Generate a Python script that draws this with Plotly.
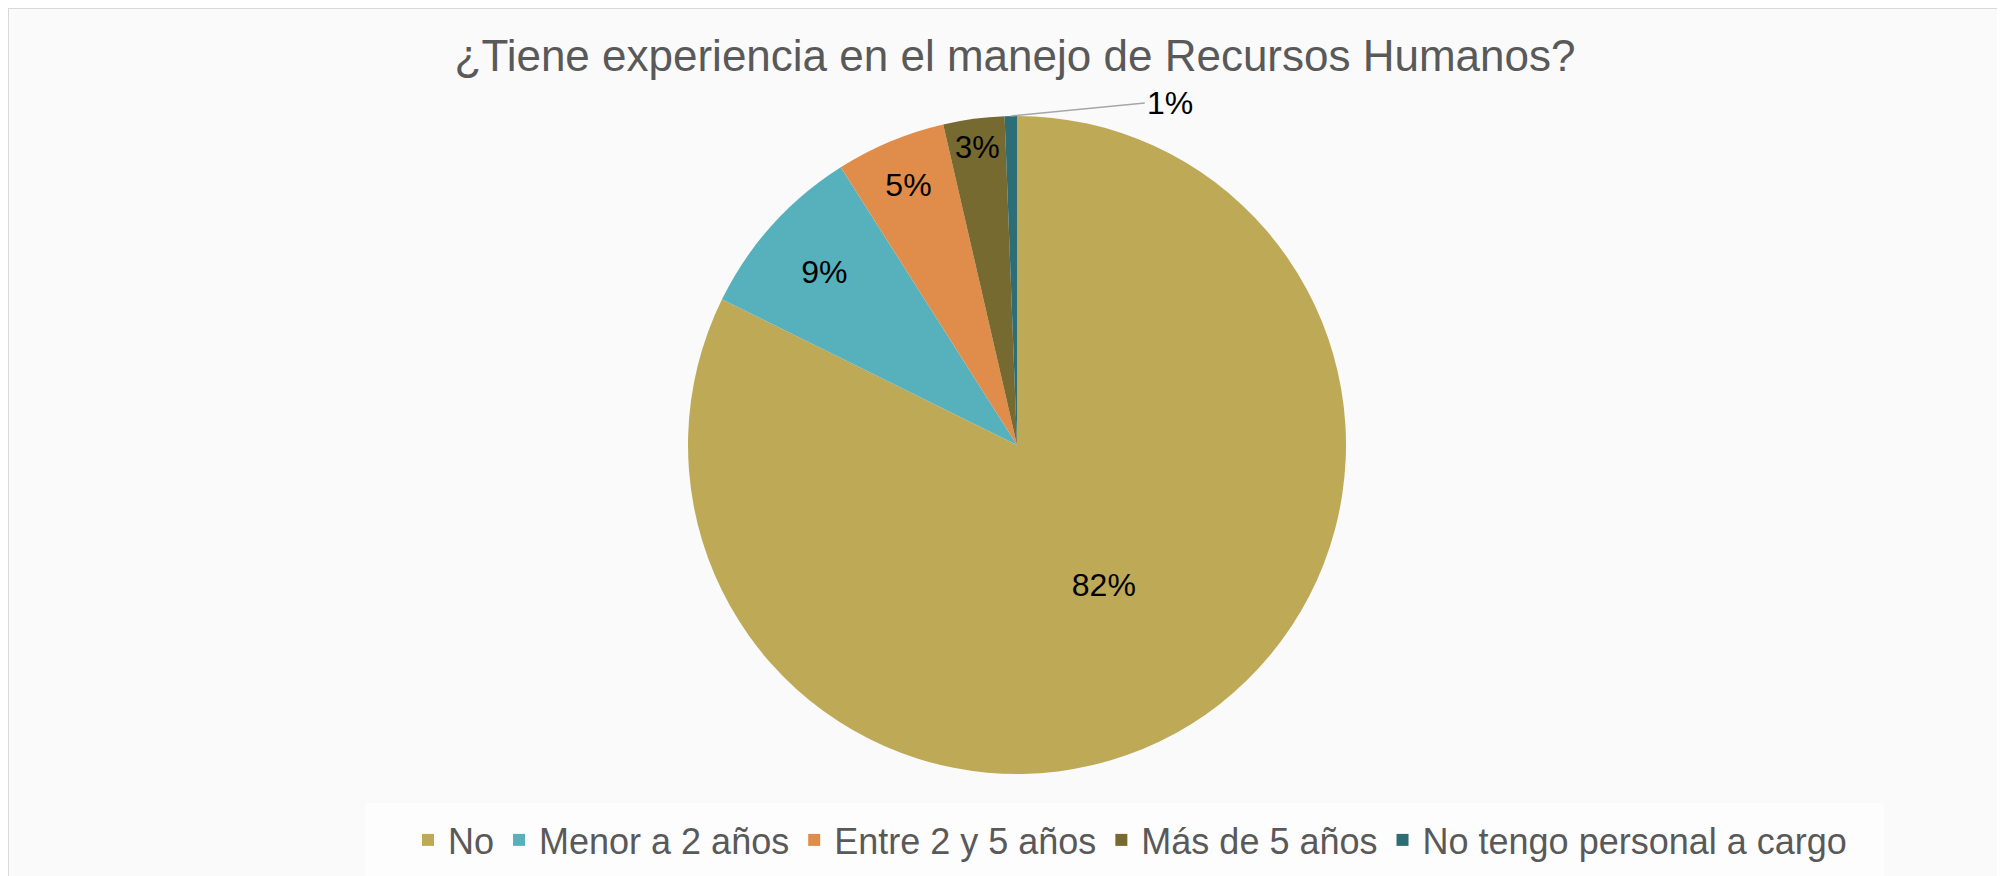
import math
import plotly.graph_objects as go

labels = ["No", "Menor a 2 años", "Entre 2 y 5 años", "Más de 5 años", "No tengo personal a cargo"]
values = [82.3, 8.7, 5.4, 3.0, 0.6]
colors = ["#BEAA56", "#56B1BD", "#E08D4B", "#776A30", "#2D6E76"]
title_text = "¿Tiene experiencia en el manejo de Recursos Humanos?"

OFF = 8  # page body margin
W, H = 2005 - OFF, 876 - OFF
cx, cy, r = 1017 - OFF, 445 - OFF, 329  # pie centre / radius in pixels

dom_x = [(cx - r) / W, (cx + r) / W]
dom_y = [1 - (cy + r) / H, 1 - (cy - r) / H]

total = sum(values)
templates = ["%{percent:.0%}"] * (len(values) - 1) + [""]

fig = go.Figure()

# frame and legend box
fig.add_shape(type="rect", xref="paper", yref="paper",
              x0=0, x1=1.01, y0=-0.01, y1=1,
              fillcolor="#FAFAFA", line=dict(color="#D9D9D9", width=2), layer="below")
fig.add_shape(type="rect", xref="paper", yref="paper",
              x0=(365 - OFF) / W, x1=(1884 - OFF) / W, y0=-0.01, y1=1 - (803 - OFF) / H,
              fillcolor="#FDFDFD", line=dict(width=0), layer="below")

fig.add_trace(go.Pie(
    labels=labels, values=values, sort=False, direction="clockwise", rotation=0,
    marker=dict(colors=colors, line=dict(width=0)),
    texttemplate=templates, textposition="inside", insidetextorientation="horizontal",
    textfont=dict(family="Liberation Sans, Arial", size=32, color="#000000"),
    domain=dict(x=dom_x, y=dom_y), hoverinfo="label+percent",
))

# small slice label with leader line
last_pct = values[-1] / total
mid = 2 * math.pi * (1 - last_pct / 2)
tip_x = (cx + r * math.sin(mid)) / W
tip_y = 1 - (cy - r * math.cos(mid)) / H
fig.add_annotation(
    x=tip_x, y=tip_y, xref="paper", yref="paper",
    ax=134, ay=-13, axref="pixel", ayref="pixel",
    text=f"{last_pct:.0%}", showarrow=True, arrowhead=0, arrowwidth=1.5,
    arrowcolor="#A6A6A6", xanchor="left", yanchor="middle",
    font=dict(family="Liberation Sans, Arial", size=32, color="#000000"),
)

fig.update_layout(
    width=W, height=H,
    margin=dict(l=0, r=0, t=0, b=0),
    paper_bgcolor="#F2F2F0", plot_bgcolor="#FAFAFA",
    title=dict(text=title_text, x=(1015 - OFF) / W, xanchor="center", y=1 - (56 - OFF) / H, yanchor="middle",
               font=dict(family="Liberation Sans, Arial", size=44, color="#595959")),
    showlegend=True,
    legend=dict(orientation="h", x=(1130 - OFF) / W, xanchor="center", y=1 - (840 - OFF) / H, yanchor="middle",
                bgcolor="rgba(0,0,0,0)", font=dict(family="Liberation Sans, Arial", size=36, color="#595959"),
                itemwidth=30, tracegroupgap=0),
)

fig.write_html("out.html")
